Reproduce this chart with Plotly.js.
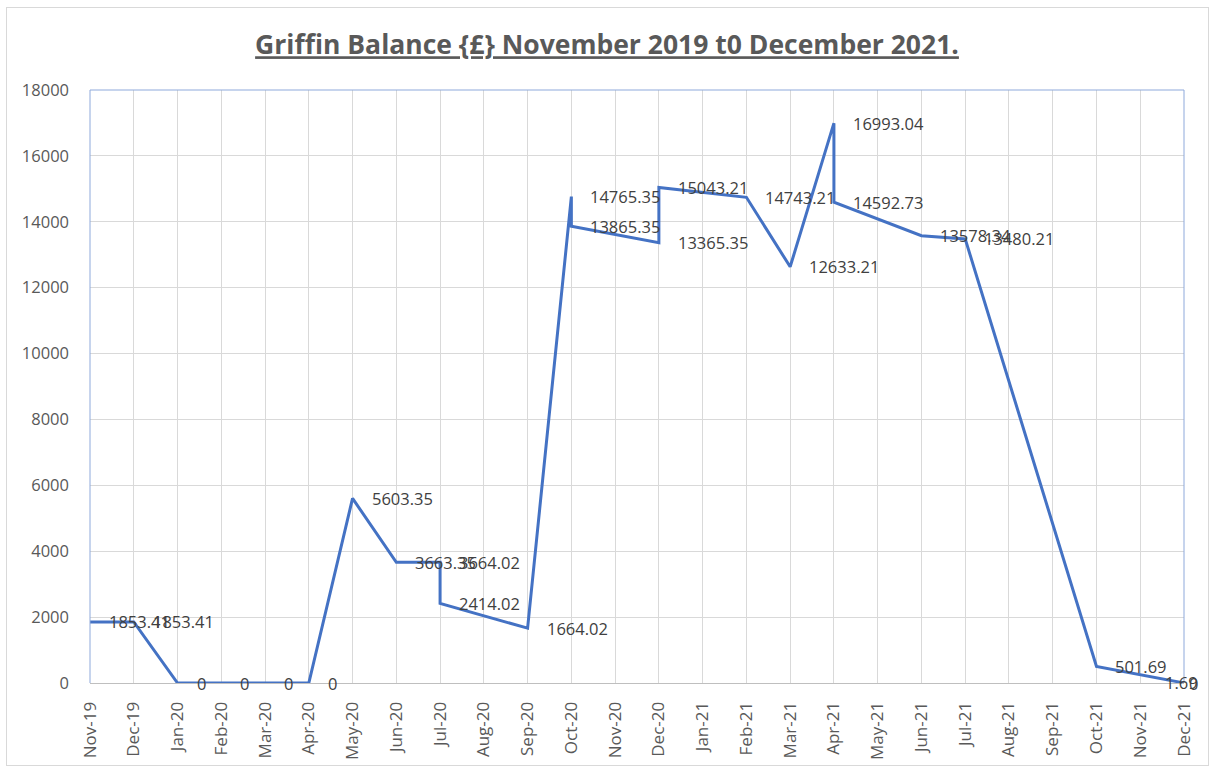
<!DOCTYPE html>
<html>
<head>
<meta charset="utf-8">
<script src="https://cdn.plot.ly/plotly-3.0.1.min.js"></script>
<style>
  html, body { margin: 0; padding: 0; background: #ffffff; }
  #wrap { position: relative; width: 1214px; height: 770px; }
  #chart { width: 1214px; height: 770px; }
  #frame { position: absolute; left: 6px; top: 7px; width: 1201px; height: 757px;
           border: 1px solid #d9d9d9; pointer-events: none; }
</style>
</head>
<body>
<div id="wrap"><div id="chart"></div><div id="frame"></div></div>
<script>
// Month tick labels (category axis)
const monthLabels = ['Nov-19','Dec-19','Jan-20','Feb-20','Mar-20','Apr-20','May-20','Jun-20',
  'Jul-20','Aug-20','Sep-20','Oct-20','Nov-20','Dec-20','Jan-21','Feb-21','Mar-21','Apr-21',
  'May-21','Jun-21','Jul-21','Aug-21','Sep-21','Oct-21','Nov-21','Dec-21'];

// Balance points (some months have two entries)
const pointMonths = ['Nov-19','Dec-19','Jan-20','Feb-20','Mar-20','Apr-20','May-20','Jun-20',
  'Jul-20','Jul-20','Sep-20','Oct-20','Oct-20','Dec-20','Dec-20','Feb-21','Mar-21','Apr-21',
  'Apr-21','Jun-21','Jul-21','Oct-21','Dec-21','Dec-21'];
const balances = [1853.41,1853.41,0,0,0,0,5603.35,3663.35,
  3664.02,2414.02,1664.02,14765.35,13865.35,13365.35,15043.21,14743.21,12633.21,16993.04,
  14592.73,13578.34,13480.21,501.69,1.69,0];

const titleText = 'Griffin Balance {£} November 2019 t0 December 2021.';

const lastMonth = monthLabels[monthLabels.length - 1];
const annotations = pointMonths.map((m, i) => {
  const atEnd = (m === lastMonth);
  return {
    x: m, y: balances[i], xref: 'x', yref: 'y',
    text: String(balances[i]),
    showarrow: false,
    xanchor: atEnd ? 'right' : 'left',
    yanchor: 'middle',
    xshift: atEnd ? 16 : 17,
    font: { family: 'Open Sans, sans-serif', size: 16.5, color: '#404040' }
  };
});

const trace = {
  type: 'scatter',
  mode: 'lines',
  x: pointMonths,
  y: balances,
  line: { color: '#4472c4', width: 3 },
  hoverinfo: 'x+y'
};

const layout = {
  width: 1214, height: 770,
  margin: { l: 90, r: 30, t: 90, b: 87 },
  paper_bgcolor: '#ffffff', plot_bgcolor: '#ffffff',
  showlegend: false,
  title: {
    text: '<b><u>' + titleText + '</u></b>',
    font: { family: 'Open Sans, sans-serif', size: 26.5, color: '#595959' },
    x: 0.5, xref: 'container', xanchor: 'center',
    y: 1 - 45 / 770, yref: 'container', yanchor: 'middle'
  },
  xaxis: {
    type: 'category',
    categoryorder: 'array',
    categoryarray: monthLabels,
    range: [0, monthLabels.length - 1],
    tickmode: 'array', tickvals: monthLabels, ticktext: monthLabels,
    tickangle: -90,
    ticks: '',
    ticklabelstandoff: 11,
    showgrid: true, gridcolor: '#d9d9d9', gridwidth: 1,
    showline: true, linecolor: '#bfbfbf', linewidth: 1,
    zeroline: false,
    tickfont: { family: 'Open Sans, sans-serif', size: 17, color: '#595959' }
  },
  yaxis: {
    range: [0, 18000], dtick: 2000, tick0: 0,
    tickformat: 'd',
    ticks: '',
    ticklabelstandoff: 20,
    showgrid: true, gridcolor: '#d9d9d9', gridwidth: 1,
    zeroline: false, showline: false,
    tickfont: { family: 'Open Sans, sans-serif', size: 16.5, color: '#595959' }
  },
  shapes: [
    { type: 'line', xref: 'paper', yref: 'paper', x0: 0, x1: 0, y0: 0, y1: 1, line: { color: '#8ea9db', width: 1 } },
    { type: 'line', xref: 'paper', yref: 'paper', x0: 0, x1: 1, y0: 1, y1: 1, line: { color: '#8ea9db', width: 1 } },
    { type: 'line', xref: 'paper', yref: 'paper', x0: 1, x1: 1, y0: 0, y1: 1, line: { color: '#8ea9db', width: 1 } }
  ],
  annotations: annotations
};

Plotly.newPlot('chart', [trace], layout, { displayModeBar: false, staticPlot: true });
</script>
</body>
</html>
